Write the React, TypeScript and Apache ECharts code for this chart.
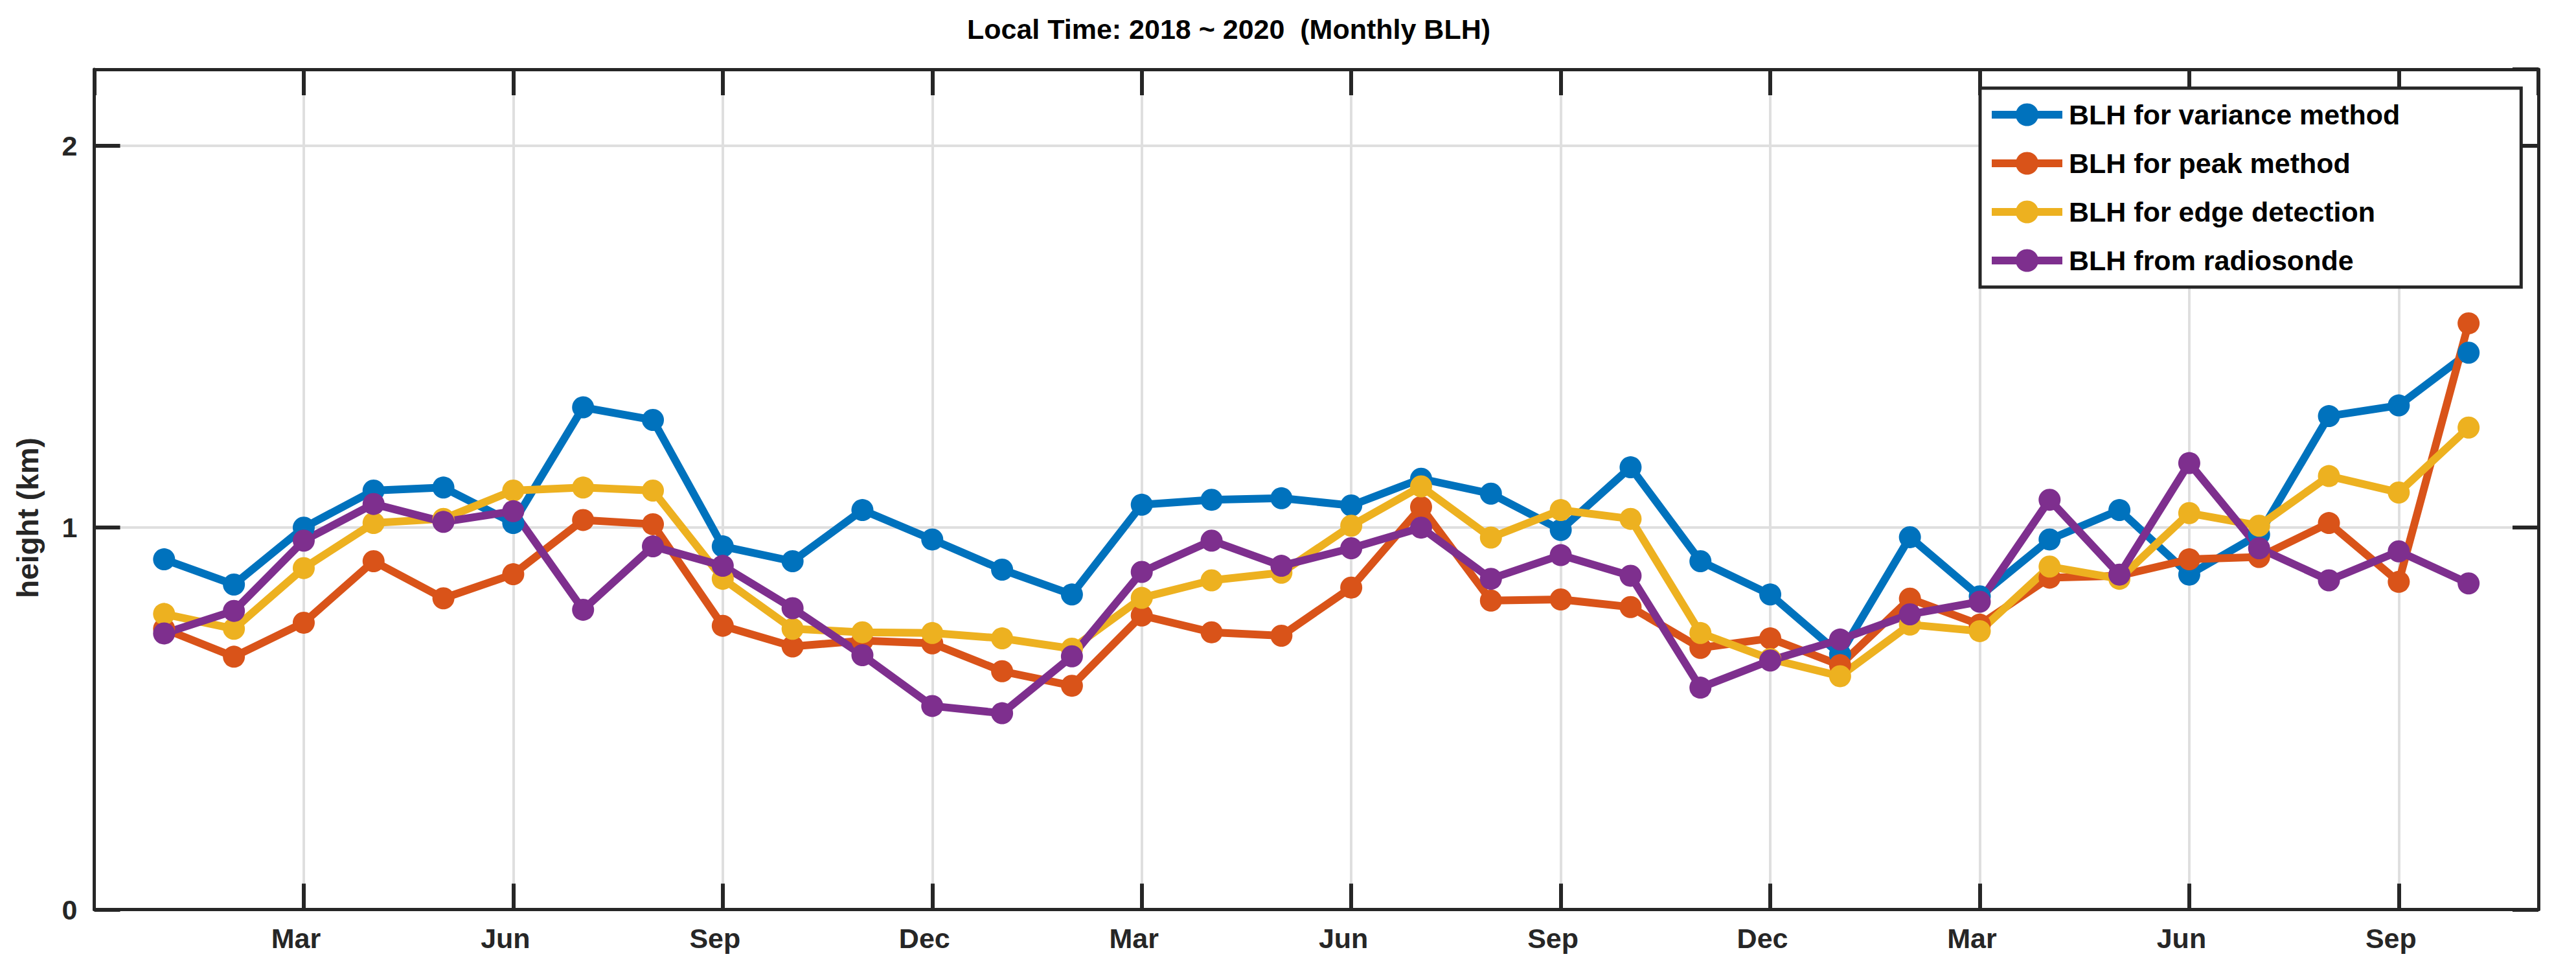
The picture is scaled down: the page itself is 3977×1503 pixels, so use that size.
import React, { useEffect, useRef } from "react";
import * as echarts from "echarts";

// Month index: 0 = Dec 2017, 1 = Jan 2018 ... 34 = Oct 2020, 35 = Nov 2020
const monthIdx = [1, 2, 3, 4, 5, 6, 7, 8, 9, 10, 11, 12, 13, 14, 15, 16, 17, 18, 19, 20, 21, 22, 23, 24, 25, 26, 27, 28, 29, 30, 31, 32, 33, 34];
const monthNames = ["Dec", "Jan", "Feb", "Mar", "Apr", "May", "Jun", "Jul", "Aug", "Sep", "Oct", "Nov"];
const yTicks = [0, 1, 2];

const varianceBLH = [0.917, 0.851, 1.0, 1.097, 1.105, 1.012, 1.315, 1.282, 0.951, 0.912, 1.046, 0.969, 0.89, 0.825, 1.06, 1.073, 1.077, 1.058, 1.128, 1.089, 0.994, 1.158, 0.912, 0.825, 0.668, 0.975, 0.82, 0.969, 1.046, 0.877, 0.982, 1.292, 1.32, 1.458];
const peakBLH = [0.735, 0.662, 0.751, 0.912, 0.815, 0.878, 1.02, 1.009, 0.743, 0.689, 0.704, 0.697, 0.624, 0.586, 0.77, 0.726, 0.717, 0.843, 1.054, 0.809, 0.812, 0.792, 0.685, 0.71, 0.64, 0.814, 0.746, 0.869, 0.874, 0.917, 0.923, 1.012, 0.858, 1.535];
const edgeBLH = [0.774, 0.735, 0.894, 1.012, 1.023, 1.097, 1.105, 1.097, 0.866, 0.735, 0.726, 0.724, 0.71, 0.683, 0.816, 0.862, 0.882, 1.005, 1.108, 0.974, 1.046, 1.023, 0.724, 0.656, 0.611, 0.746, 0.729, 0.898, 0.866, 1.038, 1.005, 1.135, 1.092, 1.262];
const radiosondeBLH = [0.723, 0.782, 0.966, 1.062, 1.015, 1.043, 0.785, 0.951, 0.9, 0.789, 0.666, 0.533, 0.514, 0.663, 0.884, 0.966, 0.9, 0.946, 1.0, 0.866, 0.928, 0.874, 0.581, 0.652, 0.707, 0.773, 0.806, 1.073, 0.877, 1.169, 0.946, 0.862, 0.938, 0.854];

const seriesNames = ["BLH for variance method", "BLH for peak method", "BLH for edge detection", "BLH from radiosonde"];
const seriesColors = ["#0072BD", "#D95319", "#EDB120", "#7E2F8E"];
const seriesValues = [varianceBLH, peakBLH, edgeBLH, radiosondeBLH];

const FONT = "'Liberation Sans', Arial, Helvetica, sans-serif";
const AXIS_COLOR = "#262626";
const GRID_COLOR = "#dfdfdf";

export default function App() {
  const ref = useRef<HTMLDivElement>(null);

  useEffect(() => {
    if (!ref.current) return;
    const chart = echarts.init(ref.current, null, { renderer: "svg" });

    const axisLine = { show: true, onZero: false, lineStyle: { color: AXIS_COLOR, width: 5 } };
    const axisTick = { show: true, inside: true, length: 40, lineStyle: { color: AXIS_COLOR, width: 6 } };
    const xRange = { type: "value" as const, min: 0, max: 35, interval: 3 };
    const yRange = { type: "value" as const, min: 0, max: 2.2, interval: 1 };
    // grid-line-only axes come first so that the ticks of the later axes are drawn over them
    const gridOnly = {
      axisLine: { show: false, onZero: false },
      axisTick: { show: false },
      axisLabel: { show: false },
      splitLine: { show: true, lineStyle: { color: GRID_COLOR, width: 4 } },
    };

    chart.setOption({
      animation: false,
      backgroundColor: "#ffffff",
      grid: { left: 145.5, right: 58, top: 107, bottom: 99.5, containLabel: false },
      xAxis: [
        { ...xRange, ...gridOnly, position: "bottom" },
        {
          ...xRange,
          position: "bottom",
          axisLine,
          axisTick,
          splitLine: { show: false },
          axisLabel: {
            show: true,
            margin: 23,
            color: AXIS_COLOR,
            fontSize: 43,
            fontWeight: "bold",
            fontFamily: FONT,
            padding: [0, 24, 0, 0],
            showMaxLabel: false,
            showMinLabel: false,
            formatter: (v: number) => (v % 3 === 0 && v > 0 && v < 35 ? monthNames[v % 12] : ""),
          },
        },
        {
          ...xRange,
          position: "top",
          axisLine,
          axisTick,
          splitLine: { show: false },
          axisLabel: { show: false },
        },
      ],
      yAxis: [
        { ...yRange, ...gridOnly, position: "left" },
        {
          ...yRange,
          position: "left",
          axisLine,
          axisTick,
          splitLine: { show: false },
          axisLabel: {
            show: true,
            margin: 26,
            color: AXIS_COLOR,
            fontSize: 43,
            fontWeight: "bold",
            fontFamily: FONT,
            padding: [0, 0, 26, 0],
            showMaxLabel: false,
            formatter: (v: number) => (yTicks.indexOf(v) >= 0 ? String(v) : ""),
          },
        },
        {
          ...yRange,
          position: "right",
          axisLine,
          axisTick,
          splitLine: { show: false },
          axisLabel: { show: false },
        },
      ],
      legend: {
        show: true,
        orient: "vertical",
        left: 3057,
        top: 136,
        z: 5,
        itemWidth: 109,
        itemHeight: 44,
        itemGap: 31,
        padding: [19, 187, 19, 12],
        backgroundColor: "#ffffff",
        borderColor: AXIS_COLOR,
        borderWidth: 5,
        borderRadius: 0,
        selectedMode: false,
        lineStyle: { width: 12 },
        textStyle: {
          color: "#000000",
          fontSize: 43,
          fontWeight: "bold",
          fontFamily: FONT,
          lineHeight: 44,
          padding: [0, 0, 0, 5],
        },
        data: seriesNames,
      },
      graphic: [
        {
          type: "text",
          x: 1897,
          y: 45,
          style: {
            text: "Local Time: 2018 ~ 2020  (Monthly BLH)",
            fill: "#000000",
            fontSize: 43,
            fontWeight: "bold",
            fontFamily: FONT,
            align: "center",
            verticalAlign: "middle",
            textAlign: "center",
            textVerticalAlign: "middle",
          },
        },
        {
          type: "text",
          x: 42.5,
          y: 799,
          rotation: Math.PI / 2,
          style: {
            text: "height (km)",
            fill: AXIS_COLOR,
            fontSize: 46,
            fontWeight: "bold",
            fontFamily: FONT,
            align: "center",
            verticalAlign: "middle",
            textAlign: "center",
            textVerticalAlign: "middle",
          },
        },
      ],
      series: seriesNames.map((name, i) => ({
        name,
        type: "line",
        xAxisIndex: 1,
        yAxisIndex: 1,
        data: monthIdx.map((m, j) => [m, seriesValues[i][j]]),
        symbol: "circle",
        symbolSize: 34,
        showSymbol: true,
        silent: true,
        lineStyle: { color: seriesColors[i], width: 12, join: "round" },
        itemStyle: { color: seriesColors[i], borderWidth: 0 },
        emphasis: { disabled: true },
      })),
    });

    return () => chart.dispose();
  }, []);

  return (
    <div
      ref={ref}
      style={{ position: "fixed", left: 0, top: 0, width: 3977, height: 1503, background: "#ffffff" }}
    />
  );
}
